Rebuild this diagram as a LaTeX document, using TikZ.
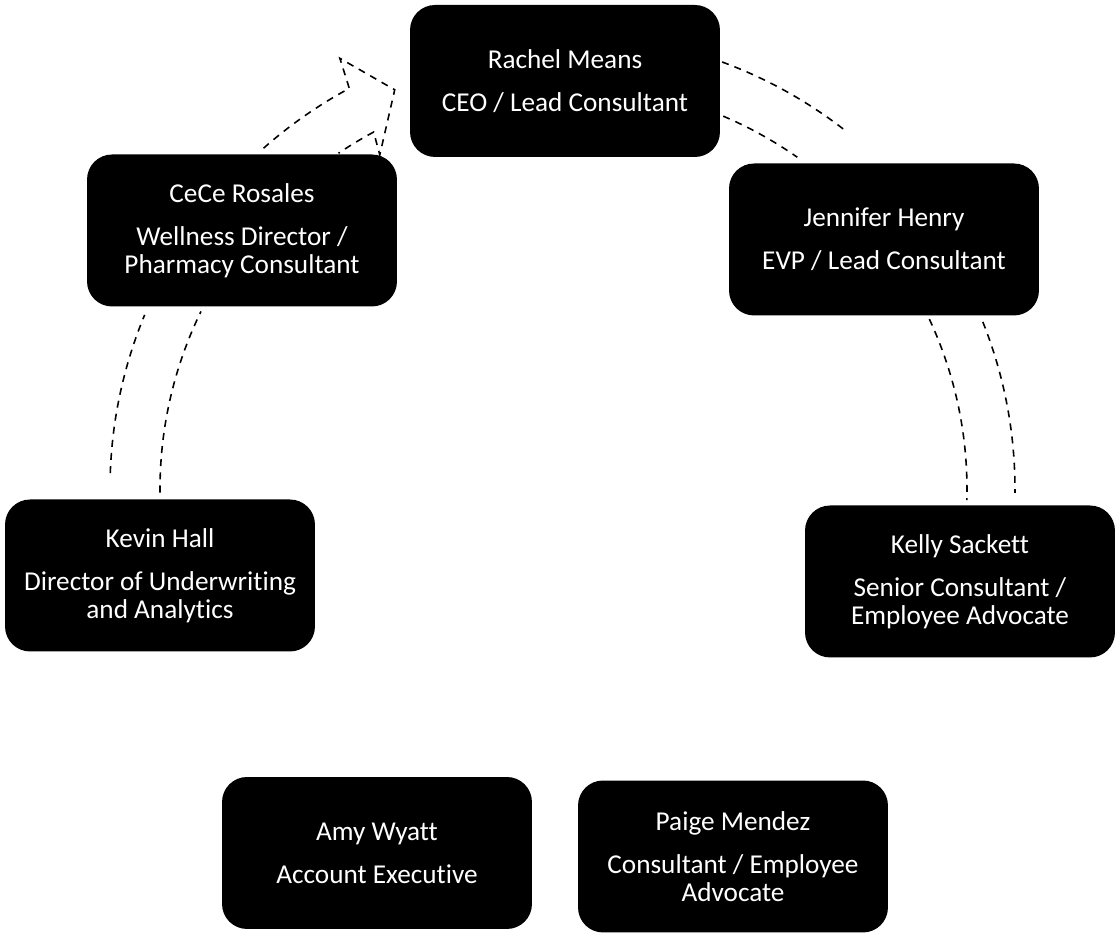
\documentclass[tikz,border=0pt]{standalone}
\usepackage{fontspec}
\setmainfont{Carlito}[Ligatures=NoCommon]
\begin{document}
\begin{tikzpicture}[x=0.02cm,y=0.02cm,
    person/.style={rectangle,rounded corners=0.5cm,fill=black,text=white,minimum width=6.2cm,minimum height=3.04cm,inner sep=2pt,align=center,font=\fontsize{15.5}{16}\selectfont},
    band/.style={draw=black,line width=0.9pt,dash pattern=on 4pt off 3.5pt}]
        \useasboundingbox (0,0) rectangle (1117,935);
        \coordinate (c) at (565,446);

        % circular arrows between the boxes
        \begin{scope}[shift={(c)}]
            \draw[band] (178:455) arc[start angle=178, end angle=157.5, radius=455];
            \draw[band] (180.5:405) arc[start angle=180.5, end angle=154, radius=405];
            \draw[band] (131.5:455) arc[start angle=131.5, end angle=118.3, radius=455]
                -- (117.6:486) -- (113.1:434) -- (119:382) -- (118.2:405)
                arc[start angle=118.2, end angle=124, radius=405];
            \draw[band] (69.8:455) arc[start angle=69.8, end angle=52, radius=455];
            \draw[band] (67:405) arc[start angle=67, end angle=55, radius=405];
            \draw[band] (21.8:450) arc[start angle=21.8, end angle=-0.5, radius=450];
            \draw[band] (25:402) arc[start angle=25, end angle=-1.6, radius=402];
        \end{scope}

        \node[person] at (565,854) (rachel) {Rachel Means\\[0.3cm]CEO / Lead Consultant};
        \node[person] at (884,695.5) (jennifer) {Jennifer Henry\\[0.3cm]EVP / Lead Consultant};
        \node[person] at (960,353.5) (kelly) {Kelly Sackett\\[0.3cm]Senior Consultant /\\Employee Advocate};
        \node[person] at (733,78.5) (paige) {Paige Mendez\\[0.3cm]Consultant / Employee\\Advocate};
        \node[person] at (377,82) (amy) {Amy Wyatt\\[0.3cm]Account Executive};
        \node[person] at (160,359.5) (kevin) {Kevin Hall\\[0.3cm]Director of Underwriting\\and Analytics};
        \node[person] at (242,704.5) (cece) {CeCe Rosales\\[0.3cm]Wellness Director /\\Pharmacy Consultant};
\end{tikzpicture}
\end{document}
